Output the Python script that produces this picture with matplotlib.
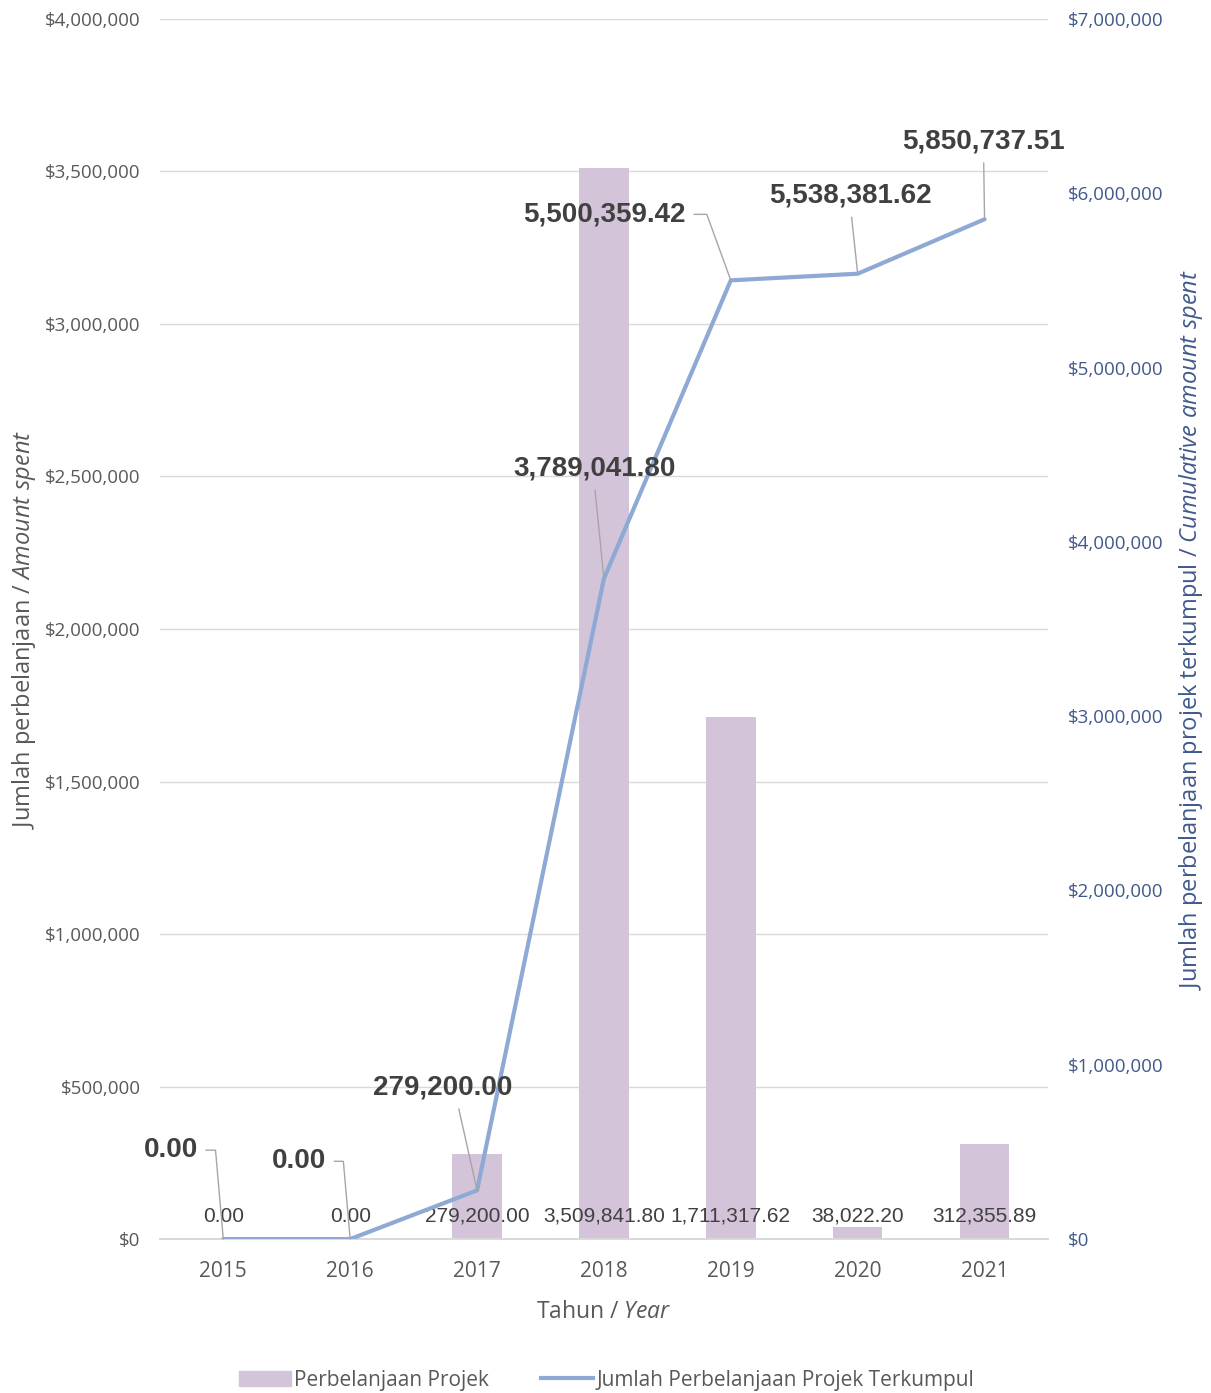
import numpy as np
import matplotlib
matplotlib.use("Agg")
import matplotlib.pyplot as plt
from matplotlib.ticker import FuncFormatter, MultipleLocator
from matplotlib.patches import Patch
from matplotlib.lines import Line2D

years = ["2015", "2016", "2017", "2018", "2019", "2020", "2021"]
spent = [0.00, 0.00, 279200.00, 3509841.80, 1711317.62, 38022.20, 312355.89]
cumulative = [0.00, 0.00, 279200.00, 3789041.80, 5500359.42, 5538381.62, 5850737.51]

BAR = "#D3C4D9"; LINE = "#8EA9D4"; GRID = "#D9D9D9"; GRAY_T = "#595959"
BLUE_T = "#41598B"; LEAD = "#A6A6A6"; INK = "#404040"

plt.rcParams.update({"font.family": ["Open Sans", "DejaVu Sans"],
                     "mathtext.fontset": "custom", "mathtext.rm": "Open Sans",
                     "mathtext.it": "Open Sans:italic"})

fig = plt.figure(figsize=(12.11, 13.93), dpi=100)
ax = fig.add_axes([0.132, 0.1105, 0.7334, 0.8759])
ax2 = ax.twinx()

x = np.arange(len(years))
ax.bar(x, spent, width=0.39, color=BAR, zorder=2)
ax2.plot(x, cumulative, color=LINE, lw=3.0, solid_capstyle="round", zorder=3)

ax.set_xlim(-0.5, 6.5)
ax.set_ylim(0, 4000000); ax2.set_ylim(0, 7000000)
ax.yaxis.set_major_locator(MultipleLocator(500000))
ax2.yaxis.set_major_locator(MultipleLocator(1000000))
money = FuncFormatter(lambda v, p: f"${v:,.0f}")
ax.yaxis.set_major_formatter(money); ax2.yaxis.set_major_formatter(money)
ax.grid(axis="y", color=GRID, lw=1.0, zorder=0)
ax.set_axisbelow(True)
for a in (ax, ax2):
    for s in ("top", "left", "right"):
        a.spines[s].set_visible(False)
    a.spines["bottom"].set_color(GRID)
    a.spines["bottom"].set_linewidth(1.2)
ax.set_xticks(x); ax.set_xticklabels(years)
ax.tick_params(axis="x", length=0, pad=16, labelsize=15, labelcolor=GRAY_T)
ax.tick_params(axis="y", length=0, pad=14, labelsize=13.5, labelcolor=GRAY_T)
ax2.tick_params(axis="y", length=0, pad=14, labelsize=13.5, labelcolor=BLUE_T)

ax.set_xlabel(r"Tahun / $\it{Year}$", fontsize=16.5, color=GRAY_T, labelpad=13)
ax.set_ylabel(r"Jumlah perbelanjaan / $\it{Amount\ spent}$", fontsize=17, color=GRAY_T, labelpad=5)
ax2.set_ylabel(r"Jumlah perbelanjaan projek terkumpul / $\it{Cumulative\ amount\ spent}$",
               fontsize=17, color=BLUE_T, rotation=90, labelpad=10)

# value labels at the base of bars
for xi, v in zip(x, spent):
    ax.annotate(f"{v:,.2f}", xy=(xi, 0), xytext=(0, 16.5), textcoords="offset points",
                ha="center", va="center", fontsize=15, color=INK, family="Liberation Sans")

# cumulative labels with leader lines
offsets = [(-38, 64), (-37, 56), (-24.5, 74), (-7, 79), (-91, 47.5), (-5, 56), (-0.7, 56)]
relposs = [(1, 0.5), (1, 0.5), (0.6, 0), (0.5, 0), (1, 0.5), (0.5, 0), (0.5, 0)]
for i, (xi, v) in enumerate(zip(x, cumulative)):
    if relposs[i][1] == 0.5:
        cs = "angle,angleA=0,angleB=95,rad=0" if i < 2 else "angle,angleA=0,angleB=110,rad=0"
    else:
        cs = "arc3"
    ax2.annotate(f"{v:,.2f}", xy=(xi, v), xytext=offsets[i], textcoords="offset points",
                 ha="center", va="center", fontsize=20, fontweight="bold", color=INK,
                 family="Liberation Sans",
                 arrowprops=dict(arrowstyle="-", color=LEAD, lw=1.0, shrinkA=4, shrinkB=0,
                                 relpos=relposs[i], connectionstyle=cs))

handles = [Patch(color=BAR, label="Perbelanjaan Projek"),
           Line2D([0], [0], color=LINE, lw=3.0, label="Jumlah Perbelanjaan Projek Terkumpul")]
leg = fig.legend(handles=handles, loc="center", bbox_to_anchor=(0.501, 0.0093), ncol=2,
                 frameon=False, fontsize=15, handlelength=2.5, handletextpad=0.15,
                 columnspacing=2.5)
for t in leg.get_texts():
    t.set_color(GRAY_T)

fig.savefig("out.png", dpi=100, facecolor="white")
